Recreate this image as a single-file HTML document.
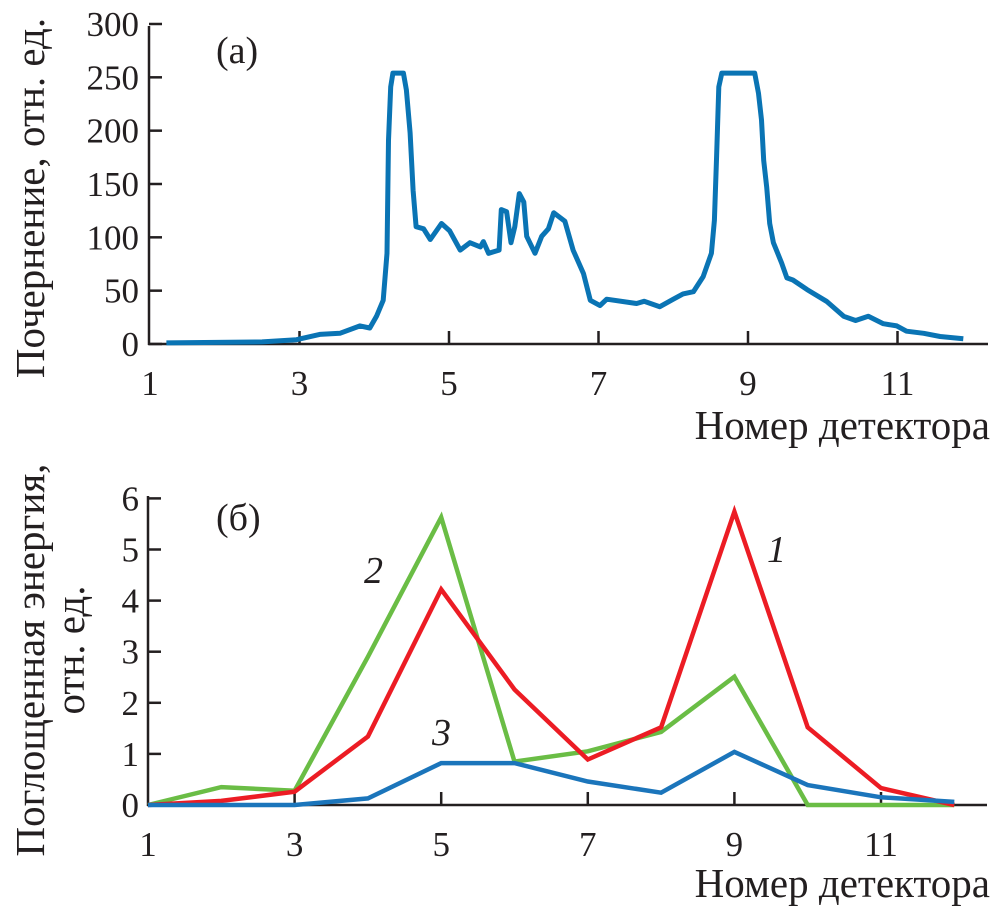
<!DOCTYPE html>
<html><head><meta charset="utf-8"><style>
html,body{margin:0;padding:0;background:#fff;}
svg{display:block;font-family:"Liberation Serif",serif;}
</style></head><body>
<svg width="991" height="909" viewBox="0 0 991 909" xmlns="http://www.w3.org/2000/svg">
<g id="top"></g>
<g id="bot"></g>
</svg>
<script>
const topX=[1.22,2.5,2.96,3.27,3.54,3.81,3.94,4.03,4.12,4.17,4.19,4.22,4.25,4.39,4.43,4.48,4.52,4.56,4.66,4.75,4.90,5.01,5.15,5.28,5.42,5.46,5.53,5.67,5.70,5.77,5.83,5.88,5.94,6.0,6.04,6.15,6.24,6.33,6.40,6.55,6.66,6.80,6.89,7.02,7.11,7.51,7.61,7.82,8.0,8.13,8.27,8.40,8.51,8.55,8.58,8.61,8.65,9.09,9.14,9.18,9.21,9.25,9.29,9.34,9.45,9.52,9.60,9.79,10.05,10.28,10.44,10.61,10.81,10.99,11.12,11.35,11.57,11.88];
const topY=[1,2,4,9,10,17,15,26,41,85,191,241,254,254,238,198,144,110,108,98,113,106,88,95,91,96,85,88,126,124,95,110,141,133,101,85,101,108,123,115,88,66,41,36,42,38,40,35,42,47,49,63,85,116,176,241,254,254,235,210,172,147,113,95,76,62,60,51,40,26,22,26,19,17,12,10,7,5];
const topXTicks=[1,3,5,7,9,11];
const topYTicks=[0,50,100,150,200,250,300];
const detectors=[1,2,3,4,5,6,7,8,9,10,11,12];
const series1=[0,0.08,0.26,1.34,4.22,2.26,0.89,1.52,5.74,1.52,0.33,0];
const series2=[0,0.35,0.28,2.9,5.63,0.85,1.05,1.43,2.51,0,0,0];
const series3=[0,0,0,0.13,0.82,0.82,0.46,0.24,1.04,0.39,0.15,0.06];
const botXTicks=[1,3,5,7,9,11];
const botYTicks=[0,1,2,3,4,5,6];
const NS="http://www.w3.org/2000/svg";
const TF=35, TT=41;
function mk(parent,tag,attrs,text){const e=document.createElementNS(NS,tag);for(const k in attrs)e.setAttribute(k,attrs[k]);if(text!==undefined)e.textContent=text;parent.appendChild(e);return e;}
// top chart
const T=document.getElementById('top');
const tx=v=>150+(v-1)*74.75, ty=v=>344-v*1.0667;
let e=mk(T,'line',{x1:149,y1:26,x2:149,y2:345,stroke:'#231f20','stroke-width':2.5});

e=mk(T,'line',{x1:148,y1:344,x2:988,y2:344,stroke:'#231f20','stroke-width':2.5});

topYTicks.forEach(v=>{const y=ty(v);
 e=mk(T,'line',{x1:149,y1:y,x2:162,y2:y,stroke:'#231f20','stroke-width':2.5});
 
 e=mk(T,'text',{x:139,y:y+12,'text-anchor':'end','font-size':TF,fill:'#231f20'},v);
 });
topXTicks.forEach(v=>{const x=tx(v);
 if(v>1){e=mk(T,'line',{x1:x,y1:331,x2:x,y2:344,stroke:'#231f20','stroke-width':2.5});
 }
 e=mk(T,'text',{x:x,y:395,'text-anchor':'middle','font-size':TF,fill:'#231f20'},v);
 });
e=mk(T,'polyline',{points:topX.map((v,i)=>tx(v).toFixed(1)+','+ty(topY[i]).toFixed(1)).join(' '),fill:'none',stroke:'#0a74b4','stroke-width':5,'stroke-linejoin':'round'});

e=mk(T,'text',{x:990,y:439,'text-anchor':'end','font-size':TT,fill:'#231f20'},'Номер детектора');

e=mk(T,'text',{x:0,y:0,transform:'translate(44,198) rotate(-90)','text-anchor':'middle','font-size':TT,fill:'#231f20'},'Почернение, отн. ед.');

e=mk(T,'text',{x:216,y:63,'font-size':38,fill:'#231f20'},'(a)');

// bottom chart
const B=document.getElementById('bot');
const bx=v=>148+(v-1)*73.3, by=v=>805-v*51.1;
e=mk(B,'line',{x1:148,y1:496,x2:148,y2:806,stroke:'#231f20','stroke-width':2.5});

e=mk(B,'line',{x1:147,y1:805,x2:987,y2:805,stroke:'#231f20','stroke-width':2.5});

botYTicks.forEach(v=>{const y=by(v);
 e=mk(B,'line',{x1:148,y1:y,x2:161,y2:y,stroke:'#231f20','stroke-width':2.5});
 
 e=mk(B,'text',{x:139,y:y+12,'text-anchor':'end','font-size':TF,fill:'#231f20'},v);
 });
botXTicks.forEach(v=>{const x=bx(v);
 if(v>1){e=mk(B,'line',{x1:x,y1:792,x2:x,y2:805,stroke:'#231f20','stroke-width':2.5});
 }
 e=mk(B,'text',{x:x,y:856,'text-anchor':'middle','font-size':TF,fill:'#231f20'},v);
 });
[[series2,'#6abd45','series-2-line'],[series1,'#ec1c24','series-1-line'],[series3,'#1b75bb','series-3-line']].forEach(s=>{
 const pl=mk(B,'polyline',{points:detectors.map((d,i)=>bx(d).toFixed(1)+','+by(s[0][i]).toFixed(1)).join(' '),fill:'none',stroke:s[1],'stroke-width':4.5,'stroke-linejoin':'miter'});
 
 });
e=mk(B,'text',{x:990,y:897,'text-anchor':'end','font-size':TT,fill:'#231f20'},'Номер детектора');

e=mk(B,'text',{x:0,y:0,transform:'translate(44,660) rotate(-90)','text-anchor':'middle','font-size':TT,fill:'#231f20'},'Поглощенная энергия,');

e=mk(B,'text',{x:0,y:0,transform:'translate(84,650) rotate(-90)','text-anchor':'middle','font-size':TT,fill:'#231f20'},'отн. ед.');

e=mk(B,'text',{x:216,y:530,'font-size':38,fill:'#231f20'},'(б)');

e=mk(B,'text',{x:364,y:583,'font-size':38,'font-style':'italic',fill:'#231f20'},'2');

e=mk(B,'text',{x:432,y:745,'font-size':38,'font-style':'italic',fill:'#231f20'},'3');

e=mk(B,'text',{x:767,y:562,'font-size':38,'font-style':'italic',fill:'#231f20'},'1');

</script>
</body></html>
